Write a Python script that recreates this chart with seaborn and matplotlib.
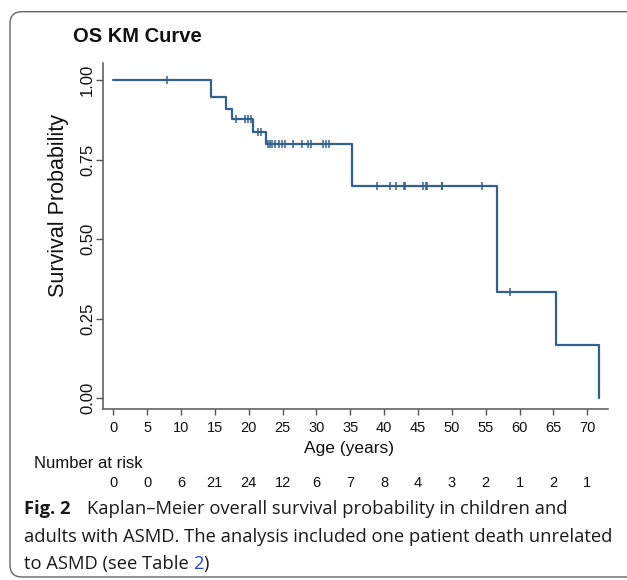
import numpy as np
import pandas as pd
import matplotlib
matplotlib.use('Agg')
import matplotlib.pyplot as plt
import seaborn as sns
from matplotlib.patches import FancyBboxPatch
from matplotlib.transforms import IdentityTransform, blended_transform_factory

# ---------------- data ----------------
event_times = [0, 14.4, 16.6, 17.6, 20.7, 22.5, 35.25, 56.6, 65.4, 71.7]
survival = [1.0, 0.947, 0.909, 0.878, 0.838, 0.800, 0.667, 0.333, 0.167, 0.0]
censor_times = [8.0, 18.1, 19.45, 19.9, 20.4, 21.4, 21.8,
                22.8, 23.2, 23.5, 23.9, 24.4, 24.9, 25.4, 26.6, 27.8, 28.8, 29.15,
                30.9, 31.4, 31.9,
                38.9, 40.8, 41.7, 42.9, 43.1, 45.8, 46.2, 46.4, 48.5, 48.6, 54.5,
                58.6]
risk_times = [0, 5, 10, 15, 20, 25, 30, 35, 40, 45, 50, 55, 60, 65, 70]
at_risk = [0, 0, 6, 21, 24, 12, 6, 7, 8, 4, 3, 2, 1, 2, 1]
y_ticks = [0.0, 0.25, 0.5, 0.75, 1.0]
y_tick_labels = ['0.00', '0.25', '0.50', '0.75', '1.00']

title = 'OS KM Curve'
x_label = 'Age (years)'
y_label = 'Survival Probability'
risk_title = 'Number at risk'
cap_bold = 'Fig. 2'
cap_line1 = 'Kaplan\u2013Meier overall survival probability in children and'
cap_line2 = 'adults with ASMD. The analysis included one patient death unrelated'
cap_line3a = 'to ASMD (see Table '
cap_line3b = '2'
cap_line3c = ')'

# ---------------- style ----------------
LINE = '#34608e'
AXC = '#555555'
TXT = '#111111'
sns.set_style('white')
plt.rcParams['font.family'] = ['Liberation Sans', 'DejaVu Sans']

W, H = 627, 580
fig = plt.figure(figsize=(W / 100, H / 100), dpi=100)


def fx(x):
    return x / W


def fy(y):
    return 1 - y / H


# axes placed in pixel terms: y-spine at x=102.7, x-spine at y=409
ax = fig.add_axes([fx(102.7), fy(409), fx(608) - fx(102.7), fy(63) - fy(409)])

df = pd.DataFrame({'t': event_times, 's': survival})
sns.lineplot(data=df, x='t', y='s', drawstyle='steps-post', estimator=None,
             sort=False, color=LINE, linewidth=1.6, ax=ax)

et = np.array(event_times)
sv = np.array(survival)
censor_s = sv[np.searchsorted(et, np.array(censor_times), side='right') - 1]
sns.scatterplot(x=censor_times, y=censor_s, marker='|', s=34, color=LINE,
                linewidth=1.1, ax=ax, legend=False)

ax.set_xlim((102.7 - 113.3) / 6.771, (608 - 113.3) / 6.771)
ax.set_ylim((398.3 - 409) / 318, (398.3 - 63) / 318)
ax.set_xticks(risk_times)
ax.set_xticklabels([str(v) for v in risk_times])
ax.set_yticks(y_ticks)
ax.set_yticklabels(y_tick_labels, rotation=90, va='center')
ax.set_xlabel('')
ax.set_ylabel('')
for sp in ['top', 'right']:
    ax.spines[sp].set_visible(False)
for sp in ['left', 'bottom']:
    ax.spines[sp].set_color(AXC)
    ax.spines[sp].set_linewidth(1.1)
ax.tick_params(axis='x', bottom=True, direction='out', length=4, width=1,
               color=AXC, labelsize=10.5, pad=4.5, labelcolor=TXT)
ax.tick_params(axis='y', left=True, direction='out', length=5, width=1,
               color=AXC, labelsize=12, pad=0.5, labelcolor=TXT)

# texts
fig.text(fx(72.7), fy(41.7), title, fontsize=14.5, fontweight='bold',
         ha='left', va='baseline', color=TXT)
fig.text(fx(58.3), fy(206), y_label, fontsize=15.5, rotation=90,
         ha='center', va='center', color=TXT)
fig.text(fx(349), fy(449), x_label, fontsize=12.5, ha='center', va='center',
         color=TXT)
fig.text(fx(34), fy(463.3), risk_title, fontsize=12, ha='left',
         va='center', color=TXT)
btr = blended_transform_factory(ax.transData, fig.transFigure)
for t, n in zip(risk_times, at_risk):
    ax.text(t, fy(483.3), str(n), transform=btr, fontsize=10.5,
            ha='center', va='center', color=TXT)

# caption
cap_font = ['Open Sans', 'DejaVu Sans']
cap_size = 13.2
renderer = fig.canvas.get_renderer()
x0 = 24
fig.text(fx(x0), fy(514.3), cap_bold, fontsize=cap_size, fontweight='bold',
         family=cap_font, ha='left', va='baseline', color='#1a1a1a')
fig.text(fx(86.7), fy(514.3), cap_line1, fontsize=cap_size, family=cap_font,
         ha='left', va='baseline', color='#1a1a1a')
fig.text(fx(x0), fy(541.7), cap_line2, fontsize=cap_size, family=cap_font,
         ha='left', va='baseline', color='#1a1a1a')
t3 = fig.text(fx(x0), fy(569), cap_line3a, fontsize=cap_size, family=cap_font,
              ha='left', va='baseline', color='#1a1a1a')
b3 = t3.get_window_extent(renderer)
t4 = fig.text(b3.x1 / W, fy(569), cap_line3b, fontsize=cap_size, family=cap_font,
              ha='left', va='baseline', color='#2b3fd6')
b4 = t4.get_window_extent(renderer)
fig.text(b4.x1 / W, fy(569), cap_line3c, fontsize=cap_size, family=cap_font,
         ha='left', va='baseline', color='#1a1a1a')

# rounded border
box = FancyBboxPatch((10, H - 577), 700, 577 - 11.7,
                     boxstyle='round,pad=0,rounding_size=12',
                     transform=IdentityTransform(), fill=False,
                     edgecolor='#666666', linewidth=1.0)
fig.patches.append(box)

fig.savefig('out.png', dpi=100)
